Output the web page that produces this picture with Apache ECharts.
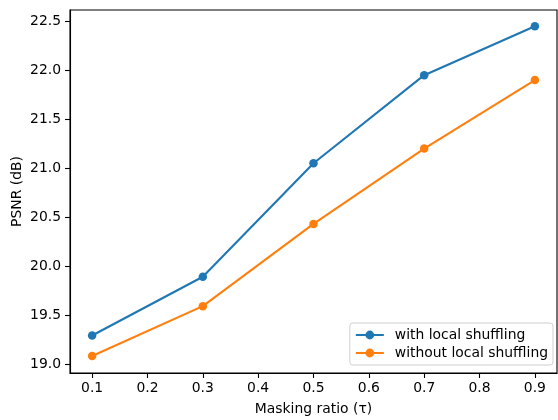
<!DOCTYPE html>
<html>
<head>
<meta charset="utf-8">
<script src="https://cdn.jsdelivr.net/npm/echarts@6/dist/echarts.min.js"></script>
<style>
    html, body {margin: 0; padding: 0; background: #fff;}
    #chart {width: 558px; height: 420px;}
</style>
</head>
<body>
<div id="chart"></div>
<script>
// masking ratios on the x axis
const ratios = [0.1, 0.3, 0.5, 0.7, 0.9];
// PSNR values
const withShuffle = [19.29, 19.89, 21.05, 21.95, 22.45];
const withoutShuffle = [19.08, 19.59, 20.43, 21.20, 21.90];
const seriesNames = ['with local shuffling', 'without local shuffling'];

const font = 'DejaVu Sans';

function pairs(ys) {
    return ratios.map((x, i) => [x, ys[i]]);
}

// only label the "nice" ticks, the edge ticks from min/max stay blank
function tickFmt(step, digits) {
    return function (v) {
        let k = v / step;
        return Math.abs(k - Math.round(k)) < 1e-6 ? v.toFixed(digits) : '';
    };
}

let chart = echarts.init(document.getElementById('chart'));

let option = {
    animation: false,
    textStyle: {fontFamily: font},
    grid: {
        left: 70, right: 1, top: 10, bottom: 47,
        outerBoundsMode: 'none',
        containLabel: false,
        show: true, borderColor: '#000', borderWidth: 1.1,
        backgroundColor: 'transparent'
    },
    xAxis: {
        type: 'value',
        min: 0.06,
        max: 0.94,
        splitNumber: 9,
        name: 'Masking ratio (τ)',
        nameLocation: 'middle',
        nameGap: 29,
        nameMoveOverlap: false,
        nameTextStyle: {fontFamily: font, fontSize: 13.9, color: '#000'},
        axisLine: {show: true, lineStyle: {color: '#000', width: 1.1}},
        axisTick: {show: true, length: 5, lineStyle: {color: '#000', width: 1.1}},
        axisLabel: {
            margin: 8, fontFamily: font, fontSize: 13.9, color: '#000',
            formatter: tickFmt(0.1, 1), showMinLabel: false, showMaxLabel: false
        },
        splitLine: {show: false}
    },
    yAxis: {
        type: 'value',
        min: 18.907,
        max: 22.616,
        splitNumber: 7,
        name: 'PSNR (dB)',
        nameLocation: 'middle',
        nameGap: 46,
        nameMoveOverlap: false,
        nameTextStyle: {fontFamily: font, fontSize: 13.9, color: '#000'},
        axisLine: {show: true, lineStyle: {color: '#000', width: 1.1}},
        axisTick: {show: true, length: 5, lineStyle: {color: '#000', width: 1.1}},
        axisLabel: {
            margin: 9, fontFamily: font, fontSize: 13.9, color: '#000',
            formatter: tickFmt(0.5, 1), showMinLabel: false, showMaxLabel: false
        },
        splitLine: {show: false}
    },
    legend: {
        orient: 'vertical',
        right: 5,
        bottom: 55,
        itemWidth: 28,
        itemHeight: 11,
        itemGap: 4,
        padding: [5, 5, 5, 5],
        backgroundColor: 'rgba(255,255,255,0.8)',
        borderColor: '#d0d0d0',
        borderWidth: 1,
        borderRadius: 3,
        textStyle: {fontFamily: font, fontSize: 13.9, color: '#000', padding: [0, 0, 0, 6]},
        data: seriesNames
    },
    series: [
        {
            name: seriesNames[0],
            type: 'line',
            data: pairs(withShuffle),
            color: '#1f77b4',
            symbol: 'circle',
            symbolSize: 8.5,
            lineStyle: {width: 2.1},
            z: 3
        },
        {
            name: seriesNames[1],
            type: 'line',
            data: pairs(withoutShuffle),
            color: '#ff7f0e',
            symbol: 'circle',
            symbolSize: 8.5,
            lineStyle: {width: 2.1},
            z: 2
        }
    ]
};

chart.setOption(option);
</script>
</body>
</html>
